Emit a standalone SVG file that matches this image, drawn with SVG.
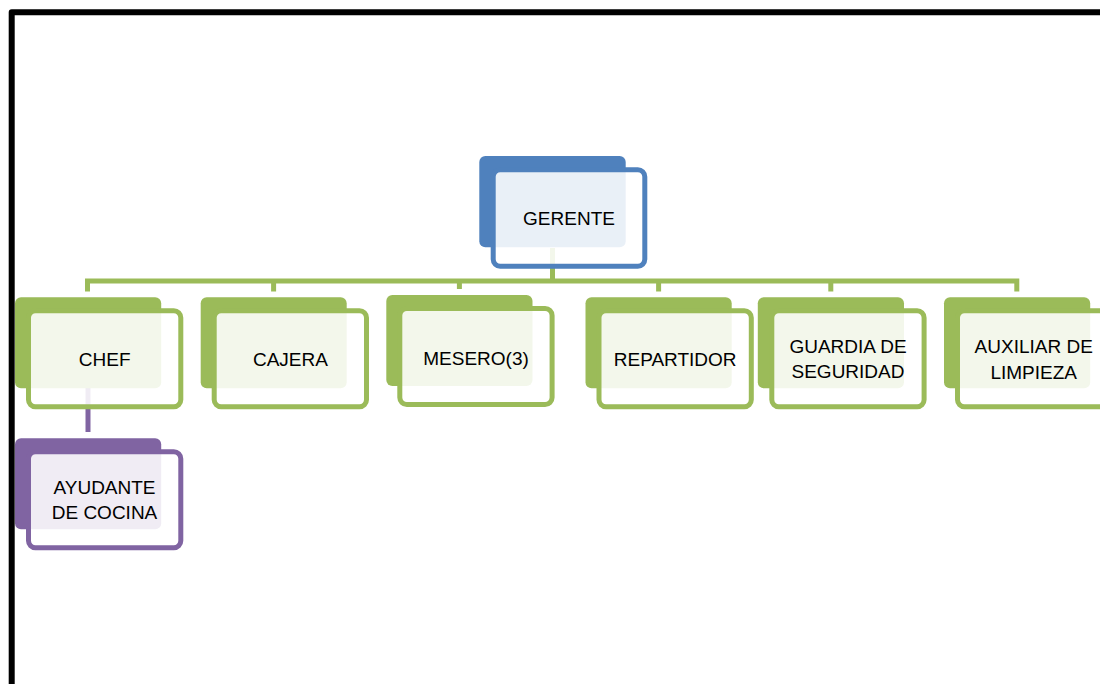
<svg xmlns="http://www.w3.org/2000/svg" width="1100" height="684" viewBox="0 0 1100 684">
<style>
.back-g{fill:#9BBB59}
.back-b{fill:#4F81BD}
.back-p{fill:#8064A2}
.front{fill:#FFFFFF;fill-opacity:0.88;stroke-width:5}
.fg{stroke:#9BBB59}
.fb{stroke:#4F81BD}
.fp{stroke:#8064A2}
.lbl{font-family:"Liberation Sans",Arial,sans-serif;font-size:19px;fill:#000;text-anchor:middle}
.conn-g{fill:none;stroke:#9BBB59;stroke-width:5}
.conn-p{fill:none;stroke:#8064A2;stroke-width:5}
</style>
<rect x="0" y="0" width="1100" height="684" fill="#FFFFFF"/>
<rect x="11.7" y="12.2" width="1200" height="800" fill="none" stroke="#000" stroke-width="6" stroke-linejoin="round"/>
<g id="connectors">
  <path class="conn-g" d="M552.5,248 V281"/>
  <path class="conn-g" d="M87.5,291.5 V281 H1016.8 V291.5"/>
  <path class="conn-g" d="M273.6,281 V291.5"/>
  <path class="conn-g" d="M459.4,281 V289"/>
  <path class="conn-g" d="M658.6,281 V291.5"/>
  <path class="conn-g" d="M830.8,281 V291.5"/>
  <path class="conn-p" d="M88,388 V432"/>
</g>
<g id="gerente">
  <rect class="back-b" x="479.3" y="156" width="146.4" height="91.3" rx="6"/>
  <rect class="front fb" x="493.2" y="169.8" width="151.6" height="96.4" rx="7"/>
  <text class="lbl" x="569" y="225">GERENTE</text>
</g>
<g id="chef">
  <rect class="back-g" x="15" y="297.3" width="146.2" height="91" rx="6"/>
  <rect class="front fg" x="28.5" y="310.8" width="152.3" height="96" rx="7"/>
  <text class="lbl" x="104.7" y="366">CHEF</text>
</g>
<g id="cajera">
  <rect class="back-g" x="200.7" y="297.3" width="146" height="91" rx="6"/>
  <rect class="front fg" x="214.2" y="310.8" width="152.3" height="96" rx="7"/>
  <text class="lbl" x="290.4" y="366">CAJERA</text>
</g>
<g id="mesero">
  <rect class="back-g" x="386.3" y="295" width="146.2" height="91" rx="6"/>
  <rect class="front fg" x="399.8" y="308.5" width="152.3" height="96" rx="7"/>
  <text class="lbl" x="476" y="364.5">MESERO(3)</text>
</g>
<g id="repartidor">
  <rect class="back-g" x="585.5" y="297.3" width="146.2" height="91" rx="6"/>
  <rect class="front fg" x="599" y="310.8" width="152.3" height="96" rx="7"/>
  <text class="lbl" x="675.2" y="366">REPARTIDOR</text>
</g>
<g id="guardia">
  <rect class="back-g" x="757.8" y="297.3" width="146.2" height="91" rx="6"/>
  <rect class="front fg" x="771.8" y="310.8" width="152.3" height="96" rx="7"/>
  <text class="lbl" x="848" y="352.5">GUARDIA DE</text>
  <text class="lbl" x="848" y="378.3">SEGURIDAD</text>
</g>
<g id="auxiliar">
  <rect class="back-g" x="944" y="297.3" width="146.2" height="91" rx="6"/>
  <rect class="front fg" x="957.5" y="310.8" width="152.3" height="96" rx="7"/>
  <text class="lbl" x="1033.7" y="353.3">AUXILIAR DE</text>
  <text class="lbl" x="1033.7" y="379">LIMPIEZA</text>
</g>
<g id="ayudante">
  <rect class="back-p" x="15" y="438.3" width="146.2" height="91" rx="6"/>
  <rect class="front fp" x="28.5" y="451.8" width="152.3" height="96" rx="7"/>
  <text class="lbl" x="104.5" y="494">AYUDANTE</text>
  <text class="lbl" x="104.5" y="519.3">DE COCINA</text>
</g>
</svg>
